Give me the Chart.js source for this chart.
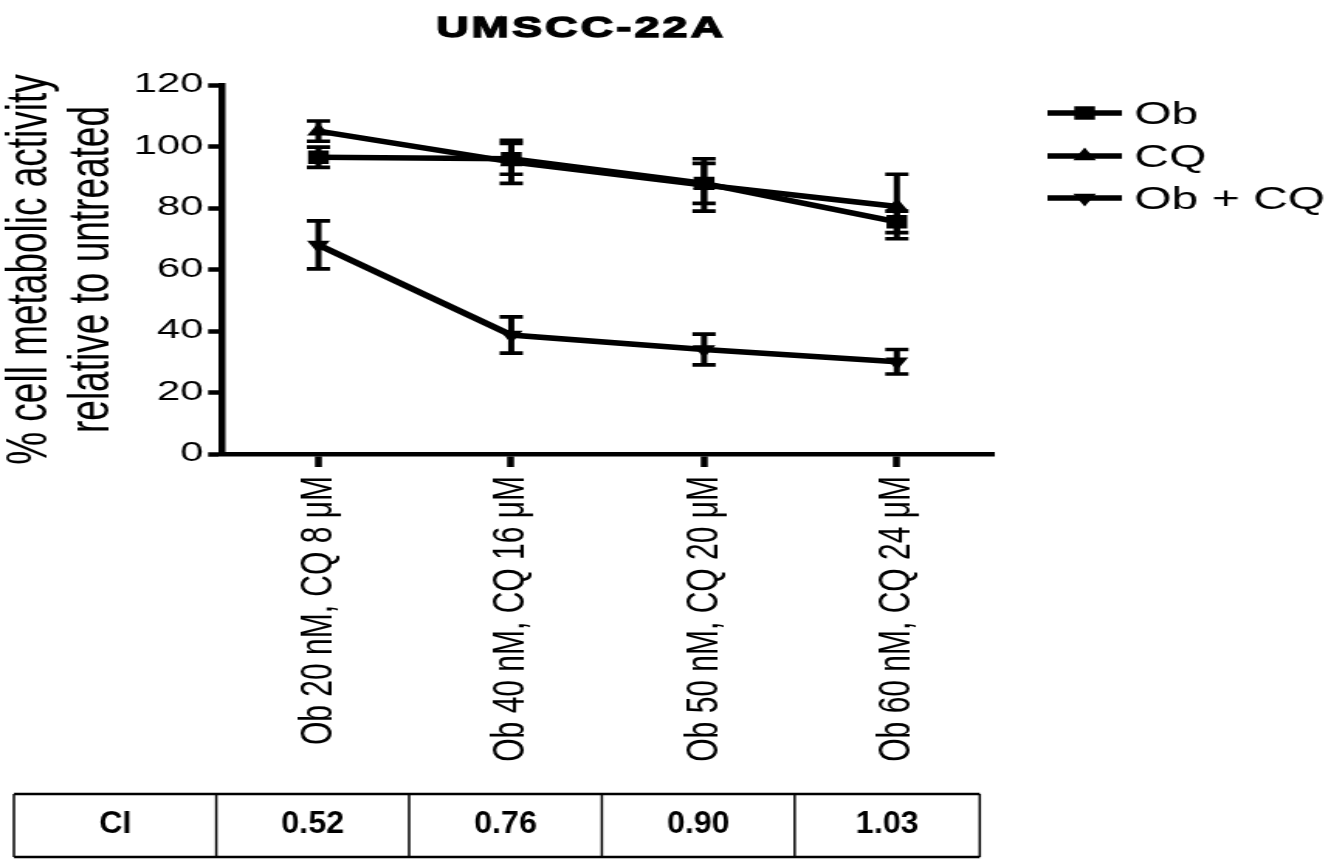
<!DOCTYPE html>
<html lang="en">
<head>
    <meta charset="UTF-8">
    <title>UMSCC-22A</title>
    <script src="https://cdn.jsdelivr.net/npm/chart.js@4.4.0/dist/chart.umd.min.js"></script>
    <style>
        html, body { margin: 0; padding: 0; background: #fff; overflow: hidden; }
        /* the figure is drawn on a square canvas and stretched wide, like the original */
        #wrap { width: 859px; height: 859px; transform: scaleX(1.5495); transform-origin: 0 0; }
    </style>
</head>
<body>
    <div id="wrap"><canvas id="chart" width="859" height="859"></canvas></div>

    <script>
        const categories = ['Ob 20 nM, CQ 8 \u03BCM', 'Ob 40 nM, CQ 16 \u03BCM', 'Ob 50 nM, CQ 20 \u03BCM', 'Ob 60 nM, CQ 24 \u03BCM'];

        const obMeans = [96.5, 96, 88, 75.5];
        const obErr = [3.3, 5, 6.5, 3.5];
        const cqMeans = [105, 95, 87.5, 80.5];
        const cqErr = [3.3, 7, 8.5, 10.5];
        const comboMeans = [68, 38.7, 34, 30];
        const comboErr = [7.8, 5.9, 5, 4];

        const ciLabel = 'CI';
        const ciValues = ['0.52', '0.76', '0.90', '1.03'];

        const FONT = 'Liberation Sans, Arial, Helvetica, sans-serif';
        Chart.defaults.font.family = FONT;
        Chart.defaults.color = '#000';

        const toPoints = arr => arr.map((v, i) => ({ x: i, y: v }));

        function series(label, means, errs, style, rot) {
            return {
                label: label,
                data: toPoints(means),
                errors: errs,
                borderColor: '#000',
                backgroundColor: '#000',
                borderWidth: 5.5,
                pointStyle: style,
                pointRotation: rot,
                pointRadius: style === 'rect' ? 9.5 : 8.5,
                pointBorderWidth: 0,
                tension: 0
            };
        }

        // vertical error bars with caps, placed through the chart scales
        const errorBars = {
            id: 'errorBars',
            beforeDatasetsDraw(chart) {
                const ctx = chart.ctx;
                const y = chart.scales.y;
                ctx.save();
                ctx.strokeStyle = '#000';
                chart.data.datasets.forEach((ds, di) => {
                    const meta = chart.getDatasetMeta(di);
                    meta.data.forEach((pt, i) => {
                        const v = ds.data[i].y;
                        const e = ds.errors[i];
                        const top = y.getPixelForValue(v + e);
                        const bot = y.getPixelForValue(v - e);
                        ctx.lineWidth = 4;
                        ctx.beginPath();
                        ctx.moveTo(pt.x, top);
                        ctx.lineTo(pt.x, bot);
                        ctx.stroke();
                        ctx.lineWidth = 3.6;
                        ctx.beginPath();
                        ctx.moveTo(pt.x - 7.5, top);
                        ctx.lineTo(pt.x + 7.5, top);
                        ctx.moveTo(pt.x - 7.5, bot);
                        ctx.lineTo(pt.x + 7.5, bot);
                        ctx.stroke();
                    });
                });
                ctx.restore();
            }
        };

        // title, legend and the CI table
        const extras = {
            id: 'extras',
            afterDraw(chart) {
                const ctx = chart.ctx;
                const x = chart.scales.x;
                ctx.save();
                ctx.fillStyle = '#000';
                ctx.strokeStyle = '#000';

                // title
                ctx.font = 'bold 29px ' + FONT;
                ctx.letterSpacing = '2px';
                ctx.textAlign = 'center';
                ctx.textBaseline = 'alphabetic';
                ctx.lineWidth = 1.3;
                ctx.fillText('UMSCC-22A', 375, 37);
                ctx.strokeText('UMSCC-22A', 375, 37);
                ctx.letterSpacing = '0px';

                // legend
                const rows = [113, 156, 198];
                ctx.font = '31px ' + FONT;
                ctx.textAlign = 'left';
                chart.data.datasets.forEach((ds, i) => {
                    const ry = rows[i];
                    ctx.lineWidth = 5.5;
                    ctx.beginPath();
                    ctx.moveTo(676, ry);
                    ctx.lineTo(724, ry);
                    ctx.stroke();
                    Chart.helpers.drawPoint(ctx, {
                        pointStyle: ds.pointStyle,
                        rotation: ds.pointRotation || 0,
                        radius: ds.pointRadius,
                        borderWidth: 0
                    }, 700, ry);
                    ctx.fillText(ds.label, 732, ry + 11);
                });

                // CI table
                const top = 794, bot = 857;
                const edges = [9];
                categories.forEach((c, i) => edges.push(x.getPixelForValue(i - 0.53)));
                edges.push(x.getPixelForValue(3.43));
                ctx.lineWidth = 2.5;
                ctx.beginPath();
                ctx.moveTo(edges[0], top);
                ctx.lineTo(edges[edges.length - 1], top);
                ctx.moveTo(edges[0], bot);
                ctx.lineTo(edges[edges.length - 1], bot);
                ctx.stroke();
                ctx.lineWidth = 1.5;
                ctx.beginPath();
                edges.forEach(ex => { ctx.moveTo(ex, top); ctx.lineTo(ex, bot); });
                ctx.stroke();

                const cells = [ciLabel, ...ciValues];
                ctx.font = 'bold 32px ' + FONT;
                ctx.textAlign = 'center';
                cells.forEach((t, i) => {
                    const cx = (edges[i] + edges[i + 1]) / 2;
                    ctx.save();
                    ctx.translate(cx, 833);
                    ctx.scale(0.65, 1);
                    ctx.fillText(t, 0, 0);
                    ctx.restore();
                });
                ctx.restore();
            }
        };

        const ctx = document.getElementById('chart').getContext('2d');
        new Chart(ctx, {
            type: 'line',
            data: {
                datasets: [
                    series('Ob', obMeans, obErr, 'rect', 0),
                    series('CQ', cqMeans, cqErr, 'triangle', 0),
                    series('Ob + CQ', comboMeans, comboErr, 'triangle', 180)
                ]
            },
            options: {
                responsive: false,
                animation: false,
                layout: { padding: { top: 85, right: 218, left: 0, bottom: 0 } },
                plugins: { legend: { display: false }, tooltip: { enabled: false } },
                scales: {
                    x: {
                        type: 'linear',
                        min: -0.5,
                        max: 3.5,
                        afterBuildTicks: s => { s.ticks = categories.map((c, i) => ({ value: i })); },
                        afterFit: s => { s.height = 405; },
                        ticks: {
                            callback: v => categories[v],
                            autoSkip: false,
                            minRotation: 90,
                            maxRotation: 90,
                            padding: 9,
                            color: '#000',
                            font: { size: 30 }
                        },
                        grid: { drawOnChartArea: false, tickLength: 13, tickWidth: 4.5, tickColor: '#000' },
                        border: { color: '#000', width: 4.5 }
                    },
                    y: {
                        min: 0,
                        max: 120,
                        afterFit: s => { s.width = 143.3; },
                        ticks: { stepSize: 20, padding: 3, color: '#000', font: { size: 27 } },
                        grid: { drawOnChartArea: false, tickLength: 9, tickWidth: 4.5, tickColor: '#000' },
                        border: { color: '#000', width: 4.5 },
                        title: {
                            display: true,
                            text: ['% cell metabolic activity', 'relative to untreated'],
                            color: '#000',
                            padding: 0,
                            font: { size: 37, lineHeight: 1.08 }
                        }
                    }
                }
            },
            plugins: [errorBars, extras]
        });
    </script>
</body>
</html>
